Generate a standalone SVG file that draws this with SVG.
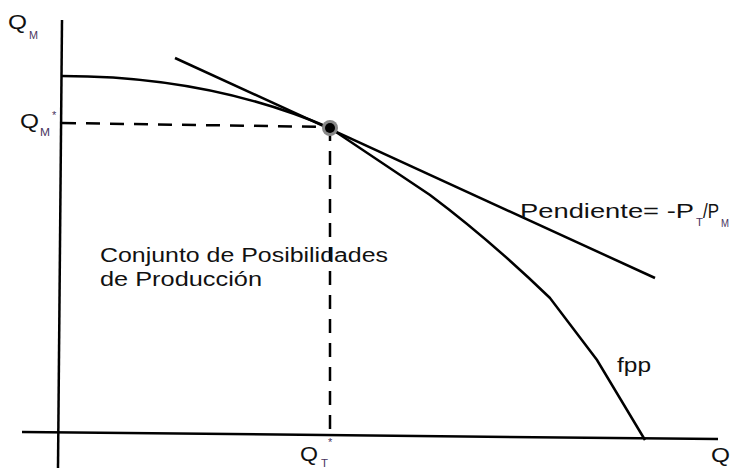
<svg xmlns="http://www.w3.org/2000/svg" width="730" height="470" viewBox="0 0 730 470">
<style>
.ax{stroke:#000;stroke-width:2.5;fill:none}
.ln{stroke:#000;stroke-width:2.5;fill:none}
.dash{stroke:#000;stroke-width:2.5;fill:none;stroke-dasharray:14,10}
text{font-family:"Liberation Sans",Arial,sans-serif;fill:#111}
.lbl{font-size:20px}
.big{font-size:20px}
.sub{font-size:11px;fill:#4a3560}
</style>
<rect width="730" height="470" fill="#fff"/>
<g id="axes">
<line class="ax" x1="62" y1="20" x2="58" y2="468"/>
<line class="ax" x1="22" y1="432" x2="718" y2="439"/>
</g>
<g id="connectors">
<line class="dash" x1="62" y1="123" x2="330" y2="127"/>
<line class="dash" x1="330" y1="127" x2="330" y2="435"/>
<line class="ln" x1="175" y1="58" x2="655" y2="278"/>
</g>
<g id="fpp">
<path class="ln" d="M62,76 C180,76 265,100 330,128 L430,195 Q490,240 550,298 L597,360 L645,440"/>
</g>
<g id="point">
<circle cx="330" cy="128" r="8" fill="#888"/>
<circle cx="330" cy="128" r="5" fill="#000"/>
</g>
<g id="labels">
<text class="big" x="8" y="29" textLength="19" lengthAdjust="spacingAndGlyphs">Q</text><text class="sub" x="29" y="39" textLength="9" lengthAdjust="spacingAndGlyphs">M</text>
<text class="big" x="20" y="128" textLength="19" lengthAdjust="spacingAndGlyphs">Q</text><text class="sub" x="40" y="136" textLength="10" lengthAdjust="spacingAndGlyphs">M</text><text class="sub" x="52" y="119">*</text>
<text class="big" x="300" y="461" textLength="18" lengthAdjust="spacingAndGlyphs">Q</text><text class="sub" x="321" y="467" textLength="7" lengthAdjust="spacingAndGlyphs">T</text><text class="sub" x="328" y="446">*</text>
<text class="big" x="711" y="462" textLength="19" lengthAdjust="spacingAndGlyphs">Q</text>
<text class="lbl" x="520" y="218" textLength="174" lengthAdjust="spacingAndGlyphs">Pendiente= -P</text><text class="sub" x="696" y="226" textLength="7" lengthAdjust="spacingAndGlyphs">T</text><text class="lbl" x="703" y="218" textLength="16" lengthAdjust="spacingAndGlyphs">/P</text><text class="sub" x="721" y="227" textLength="8" lengthAdjust="spacingAndGlyphs">M</text>
<text class="lbl" x="100" y="262" textLength="288" lengthAdjust="spacingAndGlyphs">Conjunto de Posibilidades</text>
<text class="lbl" x="100" y="286" textLength="162" lengthAdjust="spacingAndGlyphs">de Producción</text>
<text class="lbl" x="617" y="372" textLength="34" lengthAdjust="spacingAndGlyphs">fpp</text>
</g>
</svg>
